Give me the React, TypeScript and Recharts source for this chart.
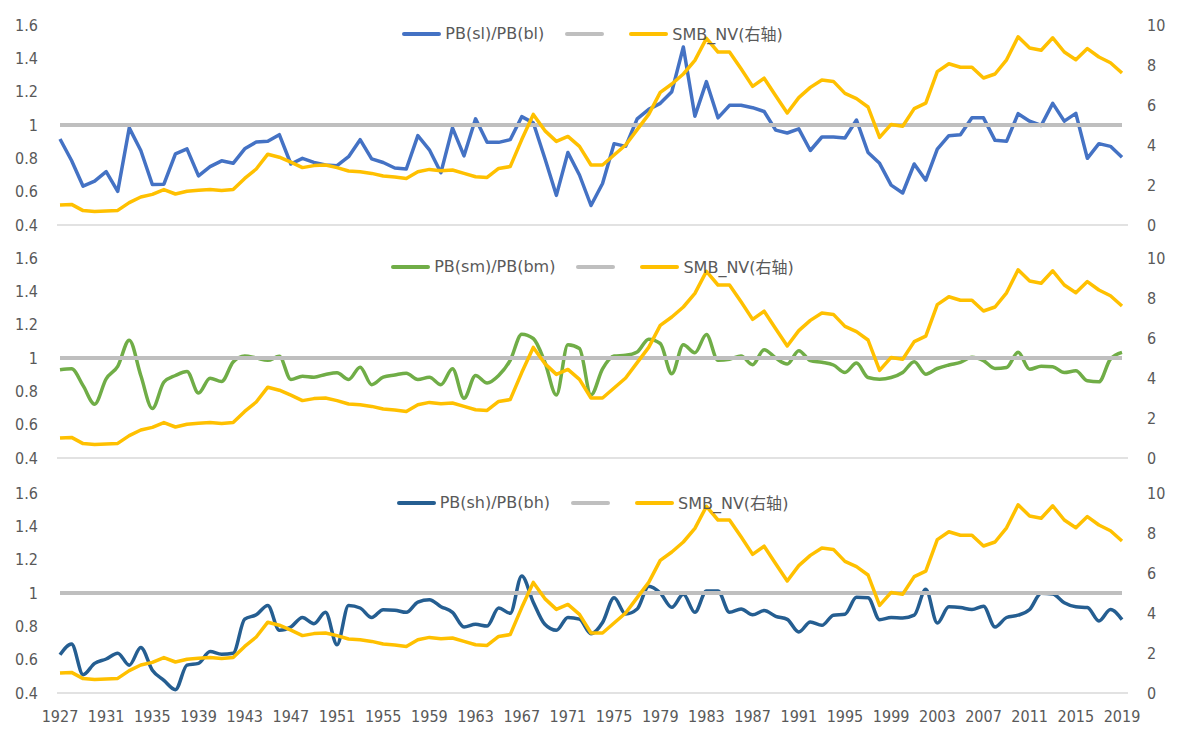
import React from 'react';
import { LineChart, Line, XAxis, YAxis, Legend } from 'recharts';

const years = [
  1927, 1928, 1929, 1930, 1931, 1932, 1933, 1934, 1935, 1936, 1937, 1938, 1939, 1940, 1941, 1942, 1943, 1944, 1945, 1946,
  1947, 1948, 1949, 1950, 1951, 1952, 1953, 1954, 1955, 1956, 1957, 1958, 1959, 1960, 1961, 1962, 1963, 1964, 1965, 1966,
  1967, 1968, 1969, 1970, 1971, 1972, 1973, 1974, 1975, 1976, 1977, 1978, 1979, 1980, 1981, 1982, 1983, 1984, 1985, 1986,
  1987, 1988, 1989, 1990, 1991, 1992, 1993, 1994, 1995, 1996, 1997, 1998, 1999, 2000, 2001, 2002, 2003, 2004, 2005, 2006,
  2007, 2008, 2009, 2010, 2011, 2012, 2013, 2014, 2015, 2016, 2017, 2018, 2019,
];

const smbNV = [
  1.0, 1.03, 0.72, 0.68, 0.7, 0.73, 1.12, 1.4, 1.53, 1.77,
  1.55, 1.69, 1.74, 1.77, 1.72, 1.77, 2.33, 2.8, 3.54, 3.39,
  3.14, 2.87, 2.97, 3.0, 2.87, 2.7, 2.66, 2.58, 2.45, 2.4,
  2.33, 2.66, 2.78, 2.71, 2.75, 2.58, 2.41, 2.38, 2.83, 2.92,
  4.27, 5.53, 4.72, 4.18, 4.43, 3.93, 3.0, 3.0, 3.5, 4.0,
  4.77, 5.53, 6.63, 7.05, 7.55, 8.23, 9.33, 8.65, 8.65, 7.81,
  6.93, 7.34, 6.46, 5.6, 6.37, 6.88, 7.25, 7.18, 6.58, 6.32,
  5.9, 4.38, 5.03, 4.94, 5.82, 6.09, 7.67, 8.06, 7.89, 7.89,
  7.35, 7.55, 8.26, 9.41, 8.85, 8.74, 9.36, 8.65, 8.26, 8.82,
  8.4, 8.11, 7.6,
];

const pbSlBl = [
  0.916, 0.787, 0.633, 0.663, 0.72, 0.602, 0.983, 0.847, 0.643, 0.645,
  0.827, 0.857, 0.695, 0.75, 0.785, 0.77, 0.857, 0.898, 0.902, 0.942,
  0.766, 0.8, 0.776, 0.76, 0.756, 0.81, 0.912, 0.797, 0.775, 0.742,
  0.736, 0.936, 0.851, 0.714, 0.983, 0.815, 1.037, 0.896, 0.896, 0.912,
  1.05, 1.013, 0.8, 0.578, 0.835, 0.7, 0.517, 0.649, 0.888, 0.872,
  1.037, 1.094, 1.13, 1.2, 1.468, 1.053, 1.26, 1.043, 1.118, 1.118,
  1.104, 1.081, 0.969, 0.952, 0.977, 0.847, 0.928, 0.928, 0.922, 1.03,
  0.835, 0.77, 0.639, 0.592, 0.766, 0.669, 0.855, 0.936, 0.942, 1.043,
  1.043, 0.908, 0.902, 1.068, 1.023, 0.997, 1.13, 1.023, 1.07, 0.8,
  0.888, 0.872, 0.807,
];

const pbSmBm = [
  0.929, 0.935, 0.834, 0.723, 0.875, 0.95, 1.107, 0.895, 0.697, 0.855,
  0.895, 0.919, 0.79, 0.879, 0.859, 0.976, 1.012, 1.0, 0.986, 1.01,
  0.871, 0.891, 0.885, 0.901, 0.911, 0.871, 0.945, 0.84, 0.885, 0.898,
  0.909, 0.871, 0.885, 0.84, 0.935, 0.758, 0.895, 0.85, 0.895, 0.986,
  1.143, 1.117, 0.976, 0.778, 1.08, 1.057, 0.778, 0.935, 1.012, 1.016,
  1.036, 1.113, 1.087, 0.905, 1.08, 1.032, 1.141, 0.986, 0.992, 1.012,
  0.96, 1.05, 1.0, 0.964, 1.044, 0.984, 0.974, 0.958, 0.913, 0.97,
  0.883, 0.873, 0.883, 0.913, 0.978, 0.903, 0.937, 0.958, 0.974, 1.004,
  0.984, 0.937, 0.943, 1.034, 0.933, 0.95, 0.947, 0.913, 0.923, 0.863,
  0.857, 0.994, 1.034,
];

const pbShBh = [
  0.629, 0.694, 0.51, 0.578, 0.604, 0.639, 0.567, 0.673, 0.537, 0.476,
  0.42, 0.567, 0.578, 0.649, 0.633, 0.639, 0.843, 0.869, 0.925, 0.776,
  0.796, 0.853, 0.816, 0.884, 0.69, 0.925, 0.91, 0.853, 0.9, 0.897,
  0.884, 0.945, 0.959, 0.918, 0.884, 0.796, 0.812, 0.802, 0.91, 0.878,
  1.102, 0.945, 0.812, 0.776, 0.853, 0.843, 0.755, 0.823, 0.971, 0.874,
  0.904, 1.041, 1.0, 0.914, 0.992, 0.884, 1.012, 1.012, 0.884, 0.904,
  0.869, 0.895, 0.86, 0.842, 0.766, 0.826, 0.806, 0.867, 0.873, 0.974,
  0.972, 0.84, 0.853, 0.85, 0.867, 1.022, 0.82, 0.917, 0.913, 0.901,
  0.921, 0.796, 0.853, 0.867, 0.901, 0.998, 0.994, 0.941, 0.917, 0.913,
  0.832, 0.901, 0.84,
];

const baseline = 1;
const leftTicks = [0.4, 0.6, 0.8, 1.0, 1.2, 1.4, 1.6];
const rightTicks = [0, 2, 4, 6, 8, 10];
const smbLabel = 'SMB_NV(右轴)';

const rows = years.map((y, i) => ({
  year: y,
  sl: pbSlBl[i],
  sm: pbSmBm[i],
  sh: pbShBh[i],
  one: baseline,
  smb: smbNV[i],
}));

const FONT = "'DejaVu Sans Condensed', 'DejaVu Sans', sans-serif";
const LEGEND_FONT = "'DejaVu Sans', sans-serif";
const GREY_TEXT = '#595959';
const YELLOW = '#FFC000';
const GREY_LINE = '#BFBFBF';

const tickStyle = { fill: GREY_TEXT, fontSize: 16, fontFamily: FONT };

const fmtLeft = (v: number) => String(Number(Number(v).toFixed(1)));

function LegendBox({ color, label }: { color: string; label: string }) {
  const sample = (c: string) => (
    <span style={{ display: 'inline-block', width: 39, height: 4, background: c, borderRadius: 2 }} />
  );
  return (
    <div
      style={{
        width: 1071,
        display: 'flex',
        justifyContent: 'center',
        alignItems: 'center',
        fontFamily: LEGEND_FONT,
        fontSize: 16,
        color: GREY_TEXT,
        lineHeight: '20px',
        whiteSpace: 'nowrap',
      }}
    >
      {sample(color)}
      <span style={{ marginLeft: 4, marginRight: 21 }}>{label}</span>
      {sample(GREY_LINE)}
      <span style={{ width: 25 }} />
      {sample(YELLOW)}
      <span style={{ marginLeft: 4 }}>
        SMB_NV(<span style={{ fontFamily: "'Noto Sans CJK SC', sans-serif", fontSize: 16 }}>右轴</span>)
      </span>
    </div>
  );
}

function Panel({
  dataKey,
  color,
  label,
  height,
  showX,
  smooth,
}: {
  dataKey: string;
  color: string;
  label: string;
  height: number;
  showX: boolean;
  smooth: boolean;
}) {
  return (
    <LineChart
      width={1179}
      height={height}
      data={rows}
      margin={{ top: 25, right: 0, bottom: showX ? 9 : 14, left: 0 }}
    >
      <XAxis
        dataKey="year"
        padding={{ left: 3, right: 6 }}
        axisLine={{ stroke: '#D9D9D9', strokeWidth: 1.5 }}
        tickLine={false}
        tick={showX ? tickStyle : false}
        interval={3}
        height={showX ? 30 : 1}
        tickSize={0}
        tickMargin={18}
      />
      <YAxis
        yAxisId="left"
        domain={[0.4, 1.6]}
        ticks={leftTicks}
        tickFormatter={fmtLeft}
        axisLine={false}
        tickLine={false}
        tick={tickStyle}
        width={57}
        tickSize={0}
        tickMargin={19}
        allowDataOverflow
      />
      <YAxis
        yAxisId="right"
        orientation="right"
        domain={[0, 10]}
        ticks={rightTicks}
        axisLine={false}
        tickLine={false}
        tick={tickStyle}
        width={51}
        tickSize={0}
        tickMargin={19}
        allowDataOverflow
      />
      <Legend
        verticalAlign="middle"
        align="center"
        wrapperStyle={{ position: 'absolute', top: height === 240 ? 23 : 24, left: 57, width: 1071 }}
        content={() => <LegendBox color={color} label={label} />}
      />
      <Line
        yAxisId="left"
        dataKey={dataKey}
        name={label}
        stroke={color}
        strokeWidth={3.5}
        dot={false}
        type={smooth ? 'monotone' : 'linear'}
        strokeLinejoin="round"
        isAnimationActive={false}
      />
      <Line
        yAxisId="left"
        dataKey="one"
        name=" "
        stroke={GREY_LINE}
        strokeWidth={4}
        dot={false}
        type="linear"
        isAnimationActive={false}
      />
      <Line
        yAxisId="right"
        dataKey="smb"
        name={smbLabel}
        stroke={YELLOW}
        strokeWidth={3.5}
        dot={false}
        type="linear"
        strokeLinejoin="round"
        isAnimationActive={false}
      />
    </LineChart>
  );
}

export default function App() {
  return (
    <div style={{ position: 'absolute', left: 0, top: 0, width: 1179, height: 732, background: '#fff' }}>
      <div style={{ position: 'absolute', left: 0, top: 0 }}>
        <Panel dataKey="sl" color="#4472C4" label="PB(sl)/PB(bl)" height={240} showX={false} smooth={false} />
      </div>
      <div style={{ position: 'absolute', left: 0, top: 233 }}>
        <Panel dataKey="sm" color="#70AD47" label="PB(sm)/PB(bm)" height={240} showX={false} smooth={true} />
      </div>
      <div style={{ position: 'absolute', left: 0, top: 468 }}>
        <Panel dataKey="sh" color="#255E91" label="PB(sh)/PB(bh)" height={264} showX={true} smooth={true} />
      </div>
    </div>
  );
}
